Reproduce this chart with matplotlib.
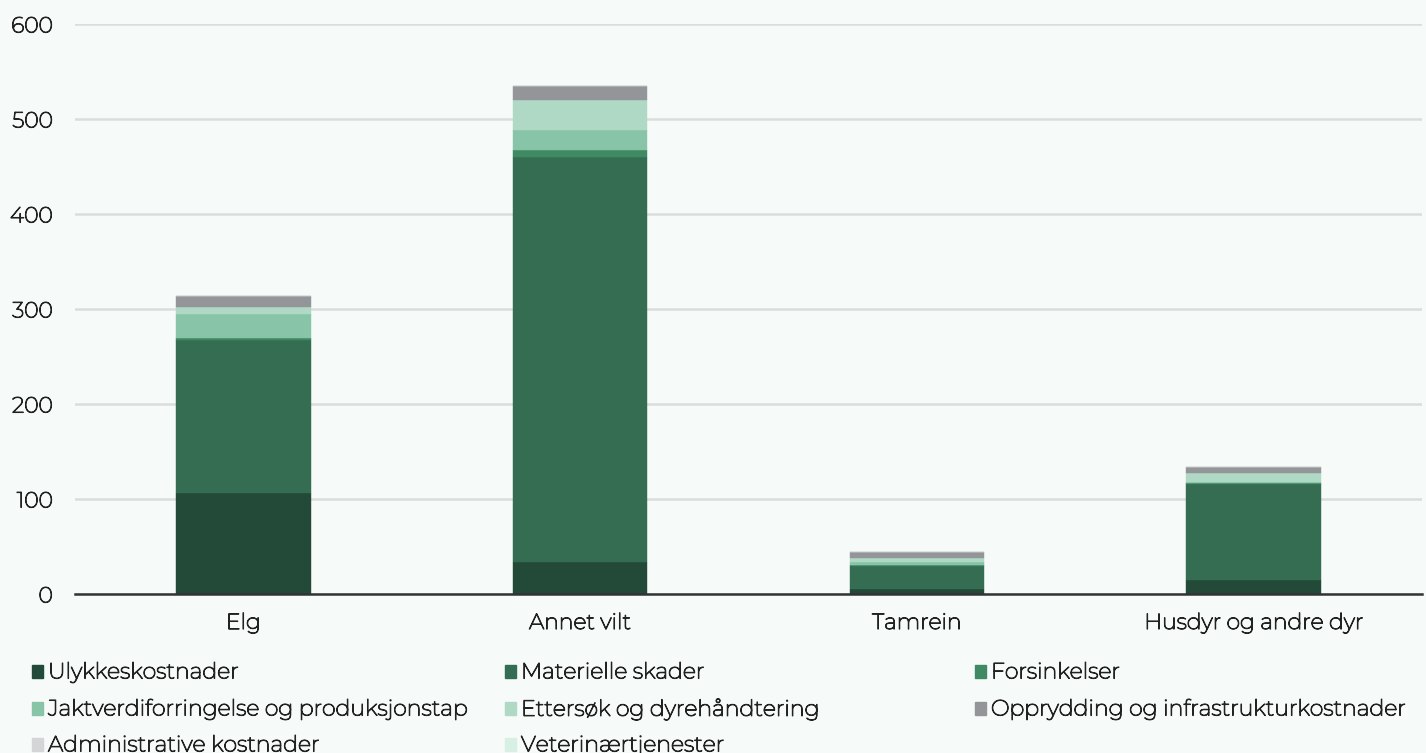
import numpy as np
import matplotlib.pyplot as plt
import matplotlib.patheffects as pe
from matplotlib.patches import Rectangle

plt.rcParams['font.family'] = ['Montserrat', 'Open Sans', 'DejaVu Sans']

categories = ['Elg', 'Annet vilt', 'Tamrein', 'Husdyr og andre dyr']
series_names = ['Ulykkeskostnader', 'Materielle skader', 'Forsinkelser',
                'Jaktverdiforringelse og produksjonstap', 'Ettersøk og dyrehåndtering',
                'Opprydding og infrastrukturkostnader', 'Administrative kostnader',
                'Veterinærtjenester']
ulykke = [106, 34, 5.5, 14.7]
materielle = [161, 426, 24, 101]
forsinkelser = [2, 7, 1.5, 1.5]
jakt = [26, 21, 2.5, 0.7]
ettersok = [7, 32, 4, 9]
opprydding = [12, 15, 7, 6.7]
administrative = [0, 0, 0, 0]
veterinar = [0, 0, 0, 0]
values = [ulykke, materielle, forsinkelser, jakt, ettersok, opprydding,
          administrative, veterinar]
colors = ['#234a38', '#356d52', '#3f8a62', '#88c4a8', '#b0d9c5', '#939598',
          '#d3d5d6', '#d8efe3']

bg = '#f6faf9'
txt = '#222222'
thick = [pe.withStroke(linewidth=0.8, foreground=txt)]
fig = plt.figure(figsize=(14.26, 7.53), dpi=100, facecolor=bg)
ax = fig.add_axes([75/1426, 1-594/753, 1347/1426, 570/753], facecolor=bg)

x = np.arange(len(categories))
bottom = np.zeros(len(categories))
for vals, col in zip(values, colors):
    ax.bar(x, vals, 0.4, bottom=bottom, color=col, edgecolor=col,
           linewidth=0.3, zorder=3)
    bottom += np.array(vals)

ax.set_xlim(-0.5, 3.5)
ax.set_ylim(0, 600)
ax.set_yticks([0, 100, 200, 300, 400, 500, 600])
ax.yaxis.grid(True, color='#dcdcdc', linewidth=1.8, zorder=0)
ax.set_xticks(x)
ax.set_xticklabels(categories)
ax.tick_params(axis='both', length=0, labelsize=15.8, colors=txt)
ax.tick_params(axis='x', pad=13)
ax.tick_params(axis='y', pad=16)
for lbl in ax.get_xticklabels() + ax.get_yticklabels():
    lbl.set_path_effects(thick)
for s in ['left', 'right', 'top']:
    ax.spines[s].set_visible(False)
ax.spines['bottom'].set_color('#333333')
ax.spines['bottom'].set_linewidth(1.8)
ax.spines['bottom'].set_zorder(5)

# legend laid out in three columns (last row runs off the bottom, as in the source)
col_x = [32, 505, 975]
row_y = [672, 709, 745]
for i, (name, col) in enumerate(zip(series_names, colors)):
    r, c = divmod(i, 3)
    px, py = col_x[c], row_y[r]
    fig.patches.append(Rectangle(((px) / 1426, 1 - (py + 6) / 753), 11/1426, 13/753,
                                 transform=fig.transFigure, color=col, figure=fig))
    fig.text((px + 16) / 1426, 1 - py / 753, name, fontsize=15.9, color=txt,
             va='center', ha='left', path_effects=thick)

fig.savefig('out.png', dpi=100, facecolor=bg)
